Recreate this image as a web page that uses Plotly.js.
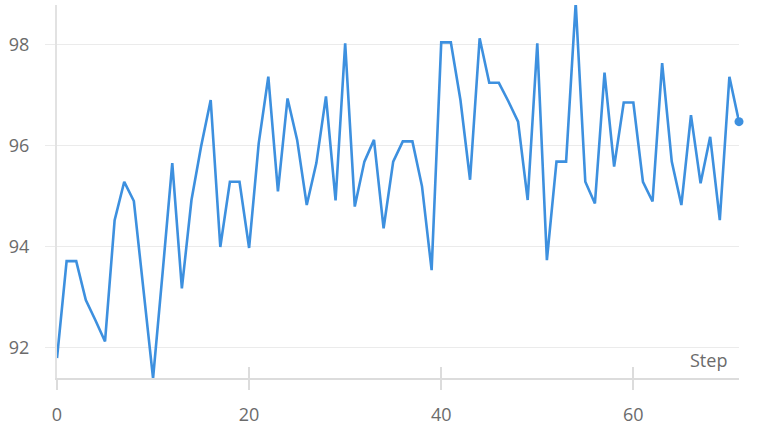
<!DOCTYPE html>
<html>
<head>
<meta charset="utf-8">
<script src="https://cdn.plot.ly/plotly-3.0.1.min.js"></script>
<style>
  html, body { margin: 0; padding: 0; background: #fff; }
  #chart { width: 771px; height: 431px; }
</style>
</head>
<body>
<div id="chart"></div>
<script>
// step index and value
const steps = [];
for (let i = 0; i < 72; i++) steps.push(i);
const values = [
  91.80, 93.72, 93.72, 92.95, 92.55, 92.13, 94.53, 95.29, 94.91, 93.15,
  91.40, 93.50, 95.66, 93.18, 94.93, 95.99, 96.91, 94.00, 95.29, 95.29,
  93.98, 96.05, 97.37, 95.10, 96.94, 96.12, 94.83, 95.66, 96.98, 94.92,
  98.03, 94.80, 95.69, 96.12, 94.37, 95.69, 96.09, 96.09, 95.20, 93.54,
  98.05, 98.05, 96.91, 95.33, 98.13, 97.25, 97.25, 96.88, 96.48, 94.93,
  98.03, 93.74, 95.69, 95.69, 98.83, 95.29, 94.86, 97.45, 95.59, 96.86,
  96.86, 95.29, 94.90, 97.64, 95.69, 94.83, 96.61, 95.26, 96.18, 94.53,
  97.37, 96.48
];
const xTicks = [0, 20, 40, 60];
const yTicks = [92, 94, 96, 98];
const lineColor = '#3d90df';
const gray = '#6b6b6b';

const last = steps.length - 1;

const traces = [
  {
    x: steps,
    y: values,
    type: 'scatter',
    mode: 'lines',
    line: {color: lineColor, width: 2.6},
    hoverinfo: 'x+y'
  },
  {
    x: [steps[last]],
    y: [values[last]],
    type: 'scatter',
    mode: 'markers',
    marker: {color: lineColor, size: 9},
    cliponaxis: false,
    hoverinfo: 'skip'
  },
  // empty trace to bring up the overlay axis that draws the upper half of the ticks
  {x: [], y: [], xaxis: 'x2', type: 'scatter', hoverinfo: 'skip'}
];

const layout = {
  width: 771,
  height: 431,
  margin: {l: 57, r: 32, t: 5, b: 53},
  paper_bgcolor: '#fff',
  plot_bgcolor: '#fff',
  showlegend: false,
  font: {family: 'Open Sans, sans-serif', size: 18, color: gray},
  xaxis: {
    range: [0, 71],
    tickvals: xTicks,
    ticktext: xTicks.map(String),
    ticks: 'outside',
    ticklen: 10,
    tickwidth: 2,
    tickcolor: '#dcdcdc',
    showgrid: false,
    zeroline: false,
    showline: true,
    linecolor: '#dcdcdc',
    linewidth: 2,
    ticklabelstandoff: 9,
    tickfont: {size: 18, color: gray}
  },
  xaxis2: {
    overlaying: 'x',
    anchor: 'y',
    range: [0, 71],
    tickvals: xTicks,
    ticks: 'inside',
    ticklen: 11,
    tickwidth: 2,
    tickcolor: '#dcdcdc',
    showticklabels: false,
    showgrid: false,
    zeroline: false,
    showline: false
  },
  yaxis: {
    range: [91.406, 98.79],
    tickvals: yTicks,
    ticktext: yTicks.map(String),
    ticks: 'outside',
    ticklen: 10,
    tickwidth: 1,
    tickcolor: '#ebebeb',
    showgrid: true,
    gridcolor: '#ebebeb',
    gridwidth: 1,
    zeroline: false,
    showline: true,
    linecolor: '#e2e2e2',
    linewidth: 2,
    ticklabelstandoff: 12,
    tickfont: {size: 18, color: gray}
  },
  annotations: [{
    text: 'Step',
    xref: 'paper', yref: 'paper',
    x: 0.986, y: 0.012,
    xanchor: 'right', yanchor: 'bottom',
    showarrow: false,
    font: {size: 18, color: gray}
  }]
};

Plotly.newPlot('chart', traces, layout, {displayModeBar: false, staticPlot: true});
</script>
</body>
</html>
